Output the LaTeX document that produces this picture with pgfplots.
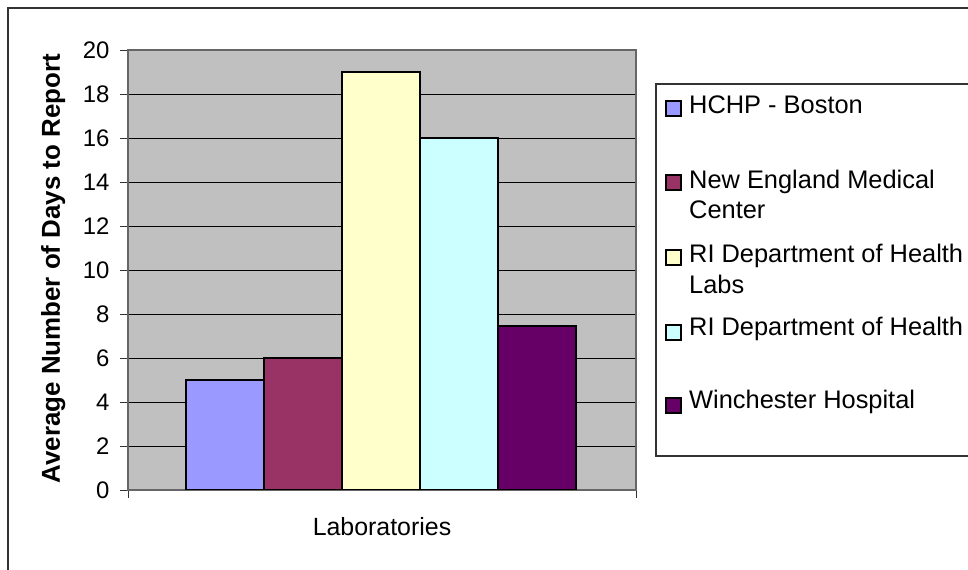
\documentclass[border=0pt]{standalone}
\usepackage{pgfplots}
\pgfplotsset{compat=1.18}
\usepackage{fontspec}
\setmainfont{Liberation Sans}
\definecolor{cA}{HTML}{9999FF}
\definecolor{cB}{HTML}{993366}
\definecolor{cC}{HTML}{FFFFCC}
\definecolor{cD}{HTML}{CCFFFF}
\definecolor{cE}{HTML}{660066}
\definecolor{plotbg}{HTML}{C0C0C0}
\begin{document}
\begin{tikzpicture}
\path[use as bounding box] (0bp,0bp) rectangle (968bp,570bp);
\draw[line width=1.2bp, black!80] (8bp,0bp) -- (8bp,562bp) -- (968bp,562bp);
\begin{axis}[
  at={(128bp,80bp)}, anchor=south west, scale only axis,
  width=508bp, height=440bp,
  xmin=128, xmax=636, ymin=0, ymax=20,
  ytick={0,2,...,20}, xtick={128,636}, xticklabels={},
  tick pos=left, tick align=outside, major tick length=8bp,
  ymajorgrids, grid style={black, line width=0.9bp},
  axis background/.style={fill=plotbg},
  axis line style={draw=gray!80!black, line width=1.3bp},
  tick style={black!80, line width=0.9bp},
  ticklabel style={font=\fontsize{24}{28}\selectfont},
  yticklabel style={xshift=-7bp},
  /pgf/number format/assume math mode=true,
  xlabel={Laboratories},
  xlabel style={font=\fontsize{25}{30}\selectfont, at={(axis description cs:0.5,-0.084)}, anchor=center},
  ylabel={Average Number of Days to Report},
  ylabel style={font=\fontsize{26}{30}\selectfont\bfseries, at={(axis description cs:-0.147,0.503)}, anchor=center},
]
\addplot[ybar, bar shift=0pt, bar width=78, fill=cA, draw=black, line width=1.5bp] coordinates {(225,5)};
\addplot[ybar, bar shift=0pt, bar width=78, fill=cB, draw=black, line width=1.5bp] coordinates {(303,6)};
\addplot[ybar, bar shift=0pt, bar width=78, fill=cC, draw=black, line width=1.5bp] coordinates {(381,19)};
\addplot[ybar, bar shift=0pt, bar width=78, fill=cD, draw=black, line width=1.5bp] coordinates {(459,16)};
\addplot[ybar, bar shift=0pt, bar width=78, fill=cE, draw=black, line width=1.5bp] coordinates {(537,7.45)};
\end{axis}
% legend
\begin{scope}[x=1bp,y=1bp]
\draw[line width=1.2bp, black!80] (975,114) -- (656,114) -- (656,486) -- (975,486);
\begin{scope}[every node/.style={font=\fontsize{25.5}{30}\selectfont, anchor=base west, inner sep=0pt}]
\draw[fill=cA, line width=1.2bp] (666,454) rectangle (681,469);
\node at (689,456) {HCHP - Boston};
\draw[fill=cB, line width=1.2bp] (666,380) rectangle (681,395);
\node at (689,382) {New England Medical};
\node at (689,352) {Center};
\draw[fill=cC, line width=1.2bp] (666,305) rectangle (681,320);
\node at (689,308) {RI Department of Health};
\node at (689,277) {Labs};
\draw[fill=cD, line width=1.2bp] (666,230) rectangle (681,245);
\node at (689,235) {RI Department of Health};
\draw[fill=cE, line width=1.2bp] (666,157) rectangle (681,172);
\node at (689,162) {Winchester Hospital};
\end{scope}
\end{scope}
\end{tikzpicture}
\end{document}
